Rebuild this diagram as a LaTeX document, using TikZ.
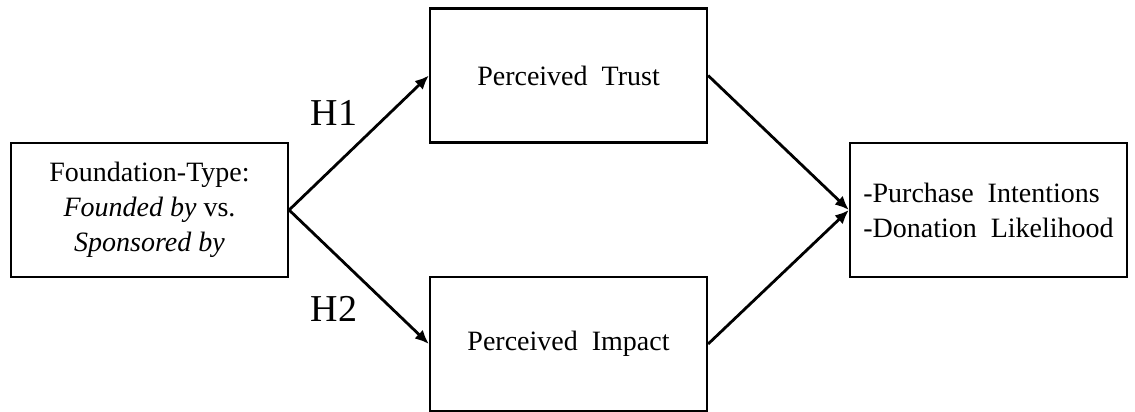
\documentclass[tikz,border=0pt]{standalone}
\usepackage{fontspec}
\setmainfont{Liberation Serif}
\usetikzlibrary{arrows.meta, positioning}

\begin{document}
\begin{tikzpicture}[x=0.5pt,y=-0.5pt,
  box/.style={draw,line width=1.1pt,minimum width=138.5pt,minimum height=67pt,
    inner sep=0pt,font=\fontsize{14}{17.5}\selectfont},
  link/.style={-{Latex[length=7pt,width=6pt]},line width=1.4pt},
  hyp/.style={font=\fontsize{19}{22}\selectfont}]
  \useasboundingbox (0,0) rectangle (1135,412);
  % boxes
  \node[box,align=center] (type) at (149.5,210)
    {Foundation-Type:\\ \textit{Founded by} vs.\\ \textit{Sponsored by}};
  \node[box] (trust)  at (568.5,75.5) {Perceived\ \ Trust};
  \node[box] (impact) at (568.5,344)  {Perceived\ \ Impact};
  \node[box,align=left] (outcome) at (988.5,210)
    {-Purchase\ \ Intentions\\ -Donation\ \ Likelihood};
  % paths
  \draw[link] (type.east) -- (trust.west);
  \draw[link] (type.east) -- (impact.west);
  \draw[link] (trust.east) -- (outcome.west);
  \draw[link] (impact.east) -- (outcome.west);
  \node[hyp] (h1) at (334,113) {H1};
  \node[hyp] (h2) at (334,309) {H2};
\end{tikzpicture}
\end{document}
